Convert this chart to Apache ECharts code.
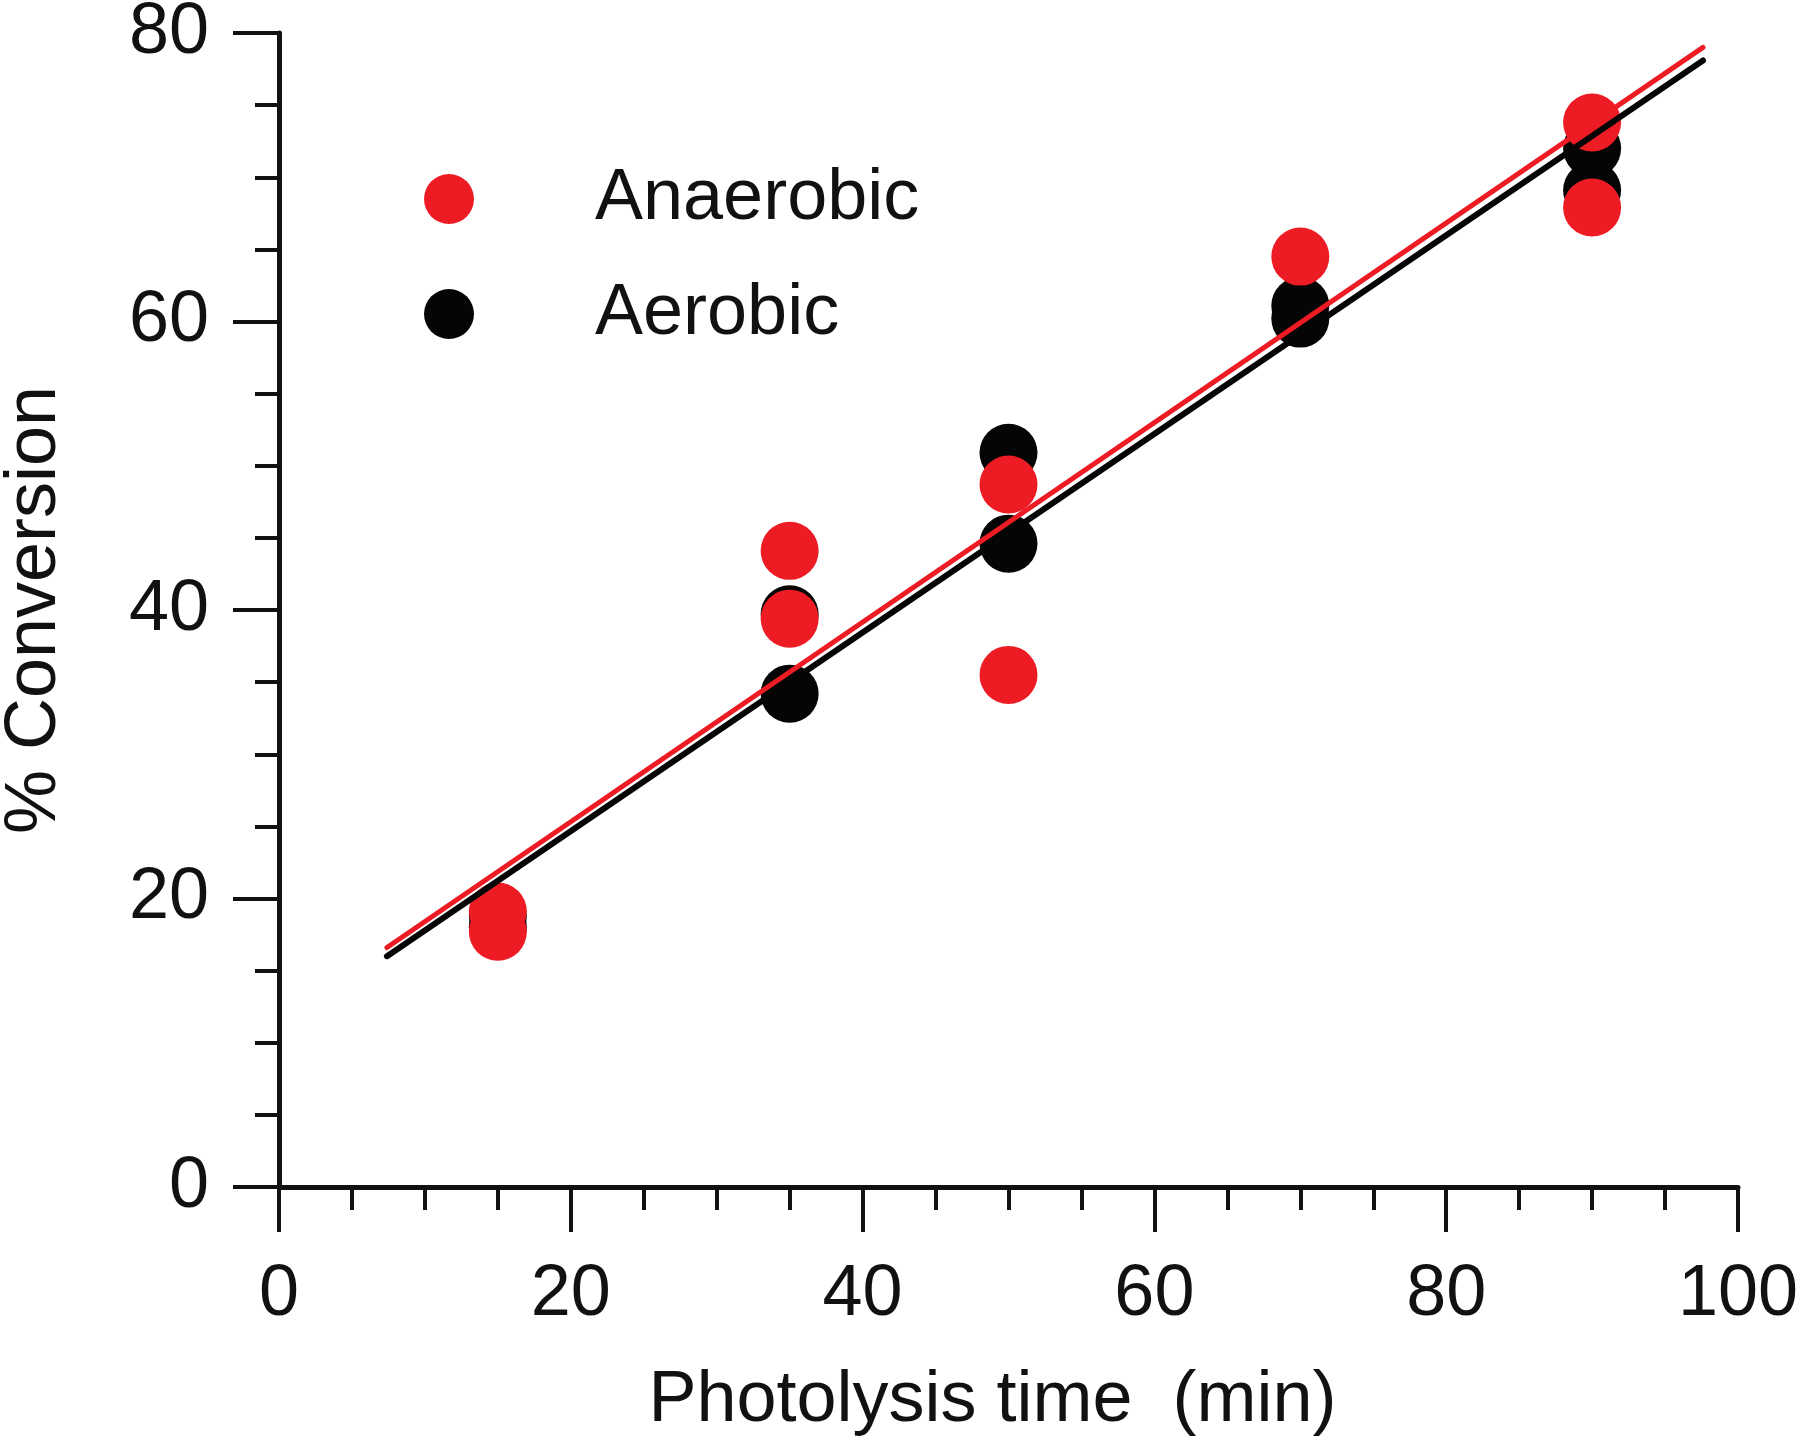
<!DOCTYPE html>
<html>
<head>
<meta charset="utf-8">
<script src="https://cdn.jsdelivr.net/npm/echarts@6/dist/echarts.min.js"></script>
<style>
html,body{margin:0;padding:0;background:#fff;}
#chart{width:1800px;height:1444px;}
</style>
</head>
<body>
<div id="chart"></div>
<script>
// ---- data ----
var seriesNames = ['Anaerobic', 'Aerobic'];
var anaerobicX = [15, 15, 35, 35, 50, 50, 70, 90, 90];
var anaerobicY = [19.1, 17.7, 44.1, 39.4, 48.7, 35.5, 64.5, 73.8, 67.9];
var aerobicX = [15, 15, 35, 35, 50, 50, 70, 70, 90, 90];
var aerobicY = [18.8, 18.0, 39.7, 34.2, 50.9, 44.6, 61.1, 60.2, 72.0, 69.1];
var fitX = [7.4, 97.6];
var anaerobicFitY = [16.6, 79.0];
var aerobicFitY = [16.0, 78.1];
var xTicks = [0, 20, 40, 60, 80, 100];
var yTicks = [0, 20, 40, 60, 80];

function pairs(xs, ys) { return xs.map(function (x, i) { return [x, ys[i]]; }); }

var RED = '#ED1C24';
var BLACK = '#050505';
var FONT = '"Liberation Sans", Arial, Helvetica, sans-serif';

var chart = echarts.init(document.getElementById('chart'), null, {renderer: 'canvas'});
chart.setOption({
  backgroundColor: '#ffffff',
  animation: false,
  grid: {left: 279, right: 62, top: 33, bottom: 257, containLabel: false, outerBoundsMode: 'none'},
  legend: {
    data: seriesNames,
    orient: 'vertical',
    left: 424,
    top: 155,
    padding: 0,
    icon: 'circle',
    itemWidth: 50,
    itemHeight: 50,
    itemGap: 27,
    textStyle: {fontFamily: FONT, fontSize: 72, color: '#111', lineHeight: 70, padding: [18, 0, 0, 116]}
  },
  xAxis: {
    type: 'value',
    min: xTicks[0],
    max: xTicks[xTicks.length - 1],
    interval: 20,
    name: 'Photolysis time  (min)',
    nameLocation: 'middle',
    nameGap: 178,
    nameTextStyle: {fontFamily: FONT, fontSize: 72, color: '#111', padding: [0, 32, 0, 0]},
    axisLine: {show: true, onZero: false, lineStyle: {color: '#111', width: 5}},
    axisTick: {show: true, inside: false, length: 45, lineStyle: {color: '#111', width: 4}},
    minorTick: {show: true, splitNumber: 4, length: 23, lineStyle: {color: '#111', width: 4}},
    axisLabel: {fontFamily: FONT, fontSize: 72, color: '#111', margin: 72},
    splitLine: {show: false}
  },
  yAxis: {
    type: 'value',
    min: yTicks[0],
    max: yTicks[yTicks.length - 1],
    interval: 20,
    name: '% Conversion',
    nameLocation: 'middle',
    nameGap: 208,
    nameRotate: 90,
    nameTextStyle: {fontFamily: FONT, fontSize: 72, color: '#111'},
    axisLine: {show: true, onZero: false, lineStyle: {color: '#111', width: 5}},
    axisTick: {show: true, inside: false, length: 46, lineStyle: {color: '#111', width: 4}},
    minorTick: {show: true, splitNumber: 4, length: 24, lineStyle: {color: '#111', width: 4}},
    axisLabel: {fontFamily: FONT, fontSize: 72, color: '#111', margin: 70},
    splitLine: {show: false}
  },
  series: [
    {
      name: 'Aerobic', type: 'scatter', symbol: 'circle', symbolSize: 58,
      itemStyle: {color: BLACK, opacity: 1}, z: 2,
      data: pairs(aerobicX, aerobicY)
    },
    {
      name: 'Anaerobic', type: 'scatter', symbol: 'circle', symbolSize: 58,
      itemStyle: {color: RED, opacity: 1}, z: 3,
      data: pairs(anaerobicX, anaerobicY)
    },
    {
      name: 'Aerobic fit', type: 'line', showSymbol: false, symbol: 'none', z: 4,
      lineStyle: {color: BLACK, width: 6, cap: 'round'},
      data: pairs(fitX, aerobicFitY)
    },
    {
      name: 'Anaerobic fit', type: 'line', showSymbol: false, symbol: 'none', z: 5,
      lineStyle: {color: RED, width: 5, cap: 'round'},
      data: pairs(fitX, anaerobicFitY)
    }
  ]
});
</script>
</body>
</html>
